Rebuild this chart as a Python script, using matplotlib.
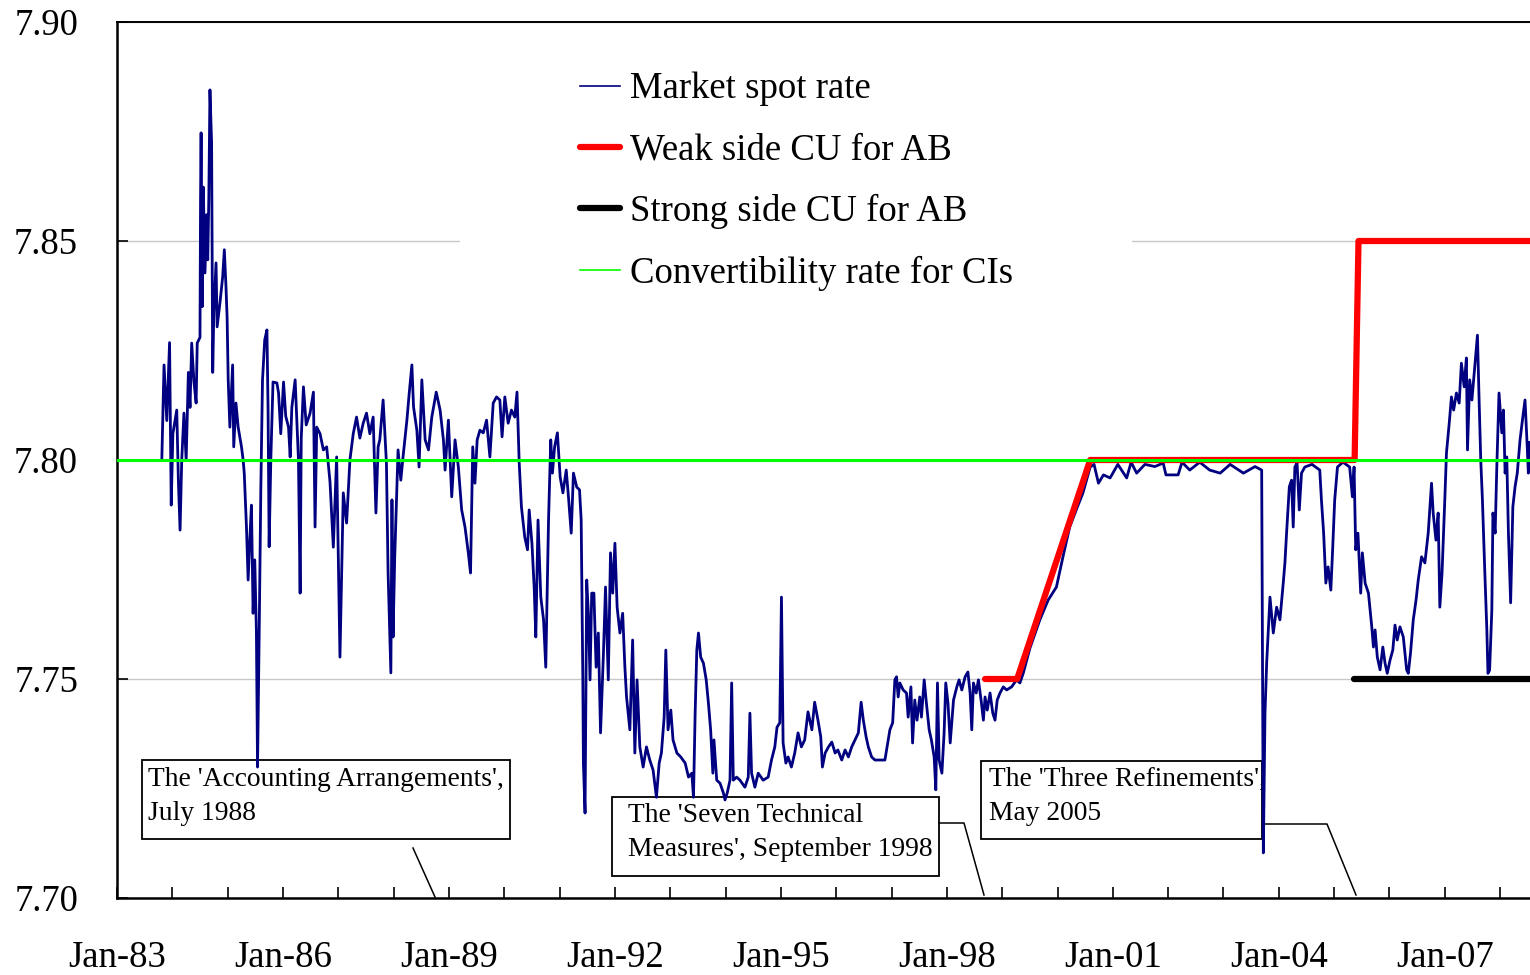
import matplotlib
matplotlib.use('Agg')
import matplotlib.pyplot as plt
from matplotlib.lines import Line2D
from matplotlib.patches import Rectangle

plt.rcParams['font.family'] = ['Liberation Serif', 'DejaVu Serif']

# ---------------- data (HKD per USD) ----------------
yr_83_86 = [1983.81, 1983.85, 1983.90, 1983.95, 1983.98, 1984.01, 1984.08, 1984.11, 1984.14, 1984.17,
            1984.21, 1984.25, 1984.29, 1984.32, 1984.35, 1984.39, 1984.43, 1984.45, 1984.50, 1984.51,
            1984.52, 1984.54, 1984.56, 1984.59, 1984.62, 1984.64, 1984.66, 1984.68, 1984.71, 1984.73,
            1984.75, 1984.79, 1984.81, 1984.86, 1984.91, 1984.94, 1984.97, 1984.99, 1985.01, 1985.04,
            1985.09, 1985.11, 1985.15, 1985.19, 1985.25, 1985.28, 1985.30, 1985.34, 1985.37, 1985.40,
            1985.43, 1985.46, 1985.49, 1985.52, 1985.54, 1985.57, 1985.60, 1985.63, 1985.67, 1985.71,
            1985.73, 1985.75, 1985.78, 1985.82, 1985.89, 1985.92, 1985.96]
fx_83_86 = [7.8000, 7.8217, 7.8090, 7.8268, 7.7897, 7.8060, 7.8114, 7.7950, 7.7840, 7.8000,
            7.8107, 7.8000, 7.8200, 7.8120, 7.8267, 7.8180, 7.8130, 7.8267, 7.8280, 7.8594,
            7.8747, 7.8350, 7.8623, 7.8427, 7.8560, 7.8457, 7.8600, 7.8845, 7.8724, 7.8200,
            7.8336, 7.8450, 7.8304, 7.8358, 7.8418, 7.8480, 7.8395, 7.8326, 7.8183, 7.8075,
            7.8217, 7.8030, 7.8130, 7.8075, 7.8030, 7.8000, 7.7970, 7.7847, 7.7726, 7.7817,
            7.7897, 7.7650, 7.7772, 7.7605, 7.7299, 7.7605, 7.7938, 7.8183, 7.8274, 7.8297,
            7.8120, 7.7802, 7.8000, 7.8178, 7.8176, 7.8153, 7.8060]

yr_86_91 = [1986.01, 1986.05, 1986.10, 1986.13, 1986.16, 1986.22, 1986.28, 1986.31, 1986.33, 1986.37,
            1986.42, 1986.49, 1986.55, 1986.58, 1986.61, 1986.67, 1986.73, 1986.79, 1986.85, 1986.91,
            1986.97, 1987.03, 1987.09, 1987.15, 1987.21, 1987.27, 1987.33, 1987.39, 1987.45, 1987.51,
            1987.57, 1987.63, 1987.68, 1987.72, 1987.75, 1987.81, 1987.87, 1987.90, 1987.95, 1987.97,
            1987.99, 1988.02, 1988.08, 1988.13, 1988.17, 1988.24, 1988.28, 1988.33, 1988.36, 1988.42,
            1988.46, 1988.51, 1988.57, 1988.63, 1988.69, 1988.77, 1988.84, 1988.90, 1988.93, 1988.99,
            1989.05, 1989.11, 1989.17, 1989.23, 1989.29, 1989.35, 1989.39, 1989.43, 1989.47, 1989.51,
            1989.56, 1989.62, 1989.68, 1989.74, 1989.80, 1989.86, 1989.92, 1989.96, 1990.01, 1990.07,
            1990.13, 1990.19, 1990.23, 1990.27, 1990.31, 1990.37, 1990.42, 1990.45, 1990.50, 1990.54,
            1990.57, 1990.61, 1990.66, 1990.71, 1990.75, 1990.80, 1990.84, 1990.87, 1990.91, 1990.96]
fx_86_91 = [7.8178, 7.8100, 7.8075, 7.8007, 7.8120, 7.8183, 7.8000, 7.7696, 7.8050, 7.8167,
            7.8080, 7.8107, 7.8155, 7.7847, 7.8075, 7.8060, 7.8023, 7.8030, 7.7950, 7.7801,
            7.8007, 7.7550, 7.7925, 7.7856, 7.8000, 7.8060, 7.8098, 7.8050, 7.8084, 7.8107,
            7.8060, 7.8098, 7.7879, 7.8030, 7.8046, 7.8137, 7.7993, 7.7742, 7.7514, 7.7909,
            7.7596, 7.7779, 7.8023, 7.7954, 7.8007, 7.8091, 7.8150, 7.8217, 7.8121, 7.8068,
            7.7984, 7.8183, 7.8046, 7.8023, 7.8098, 7.8155, 7.8114, 7.8046, 7.7977, 7.8091,
            7.7916, 7.8046, 7.7984, 7.7886, 7.7847, 7.7788, 7.7742, 7.8030, 7.7947, 7.8046,
            7.8068, 7.8062, 7.8091, 7.8007, 7.8130, 7.8144, 7.8137, 7.8053, 7.8144, 7.8084,
            7.8114, 7.8098, 7.8155, 7.7993, 7.7893, 7.7824, 7.7795, 7.7886, 7.7810, 7.7710,
            7.7596, 7.7863, 7.7687, 7.7635, 7.7527, 7.7863, 7.8046, 7.7970, 7.8030, 7.8062]

yr_91_95 = [1991.01, 1991.06, 1991.12, 1991.16, 1991.21, 1991.25, 1991.31, 1991.36, 1991.39, 1991.42,
            1991.43, 1991.46, 1991.49, 1991.52, 1991.55, 1991.58, 1991.62, 1991.66, 1991.70, 1991.74,
            1991.79, 1991.83, 1991.88, 1991.92, 1991.96, 1992.00, 1992.04, 1992.09, 1992.14, 1992.18,
            1992.21, 1992.27, 1992.32, 1992.36, 1992.40, 1992.45, 1992.51, 1992.57, 1992.63, 1992.69,
            1992.75, 1992.80, 1992.84, 1992.89, 1992.92, 1992.96, 1993.01, 1993.05, 1993.12, 1993.19,
            1993.27, 1993.33, 1993.39, 1993.42, 1993.45, 1993.48, 1993.51, 1993.55, 1993.60, 1993.65,
            1993.69, 1993.73, 1993.77, 1993.79, 1993.84, 1993.90, 1993.96, 1993.99, 1994.03, 1994.08,
            1994.11, 1994.14, 1994.20, 1994.26, 1994.35, 1994.41, 1994.44, 1994.47, 1994.53, 1994.59,
            1994.68, 1994.77, 1994.83, 1994.89, 1994.93, 1994.98]
fx_91_95 = [7.7961, 7.7925, 7.7977, 7.7916, 7.7833, 7.7970, 7.7938, 7.7932, 7.7863, 7.7498,
            7.7308, 7.7194, 7.7726, 7.7650, 7.7498, 7.7696, 7.7696, 7.7527, 7.7605, 7.7377,
            7.7550, 7.7710, 7.7498, 7.7788, 7.7696, 7.7810, 7.7664, 7.7605, 7.7650, 7.7527,
            7.7459, 7.7384, 7.7589, 7.7331, 7.7498, 7.7345, 7.7299, 7.7345, 7.7315, 7.7292,
            7.7230, 7.7308, 7.7331, 7.7413, 7.7566, 7.7384, 7.7429, 7.7361, 7.7331, 7.7322,
            7.7308, 7.7276, 7.7285, 7.7230, 7.7422, 7.7566, 7.7605, 7.7550, 7.7536, 7.7498,
            7.7445, 7.7384, 7.7285, 7.7361, 7.7269, 7.7262, 7.7240, 7.7224, 7.7240, 7.7269,
            7.7491, 7.7269, 7.7276, 7.7269, 7.7253, 7.7276, 7.7422, 7.7285, 7.7253, 7.7285,
            7.7269, 7.7276, 7.7315, 7.7345, 7.7390, 7.7400]

yr_95_00 = [1995.01, 1995.04, 1995.09, 1995.13, 1995.19, 1995.25, 1995.31, 1995.37, 1995.43, 1995.49,
            1995.56, 1995.61, 1995.67, 1995.72, 1995.75, 1995.80, 1995.86, 1995.92, 1995.98, 1996.03,
            1996.10, 1996.16, 1996.22, 1996.28, 1996.34, 1996.40, 1996.45, 1996.49, 1996.54, 1996.58,
            1996.64, 1996.70, 1996.79, 1996.88, 1996.92, 1996.97, 1997.02, 1997.06, 1997.09, 1997.12,
            1997.15, 1997.21, 1997.27, 1997.30, 1997.35, 1997.38, 1997.42, 1997.46, 1997.51, 1997.54,
            1997.59, 1997.63, 1997.68, 1997.72, 1997.77, 1997.80, 1997.83, 1997.86, 1997.91, 1997.95,
            1997.98, 1998.02, 1998.06, 1998.12, 1998.18, 1998.22, 1998.27, 1998.33, 1998.38, 1998.42,
            1998.45, 1998.48, 1998.53, 1998.57, 1998.62, 1998.66, 1998.69, 1998.73, 1998.78, 1998.83,
            1998.87, 1998.91, 1998.96, 1999.02, 1999.08, 1999.17, 1999.26, 1999.32, 1999.38, 1999.50,
            1999.68, 1999.83, 1999.98]
fx_95_00 = [7.7687, 7.7354, 7.7308, 7.7322, 7.7299, 7.7331, 7.7377, 7.7345, 7.7361, 7.7425,
            7.7384, 7.7447, 7.7406, 7.7368, 7.7299, 7.7331, 7.7345, 7.7356, 7.7331, 7.7338,
            7.7315, 7.7338, 7.7322, 7.7345, 7.7361, 7.7377, 7.7447, 7.7406, 7.7368, 7.7345,
            7.7322, 7.7315, 7.7315, 7.7315, 7.7345, 7.7384, 7.7400, 7.7498, 7.7505, 7.7459,
            7.7491, 7.7475, 7.7468, 7.7413, 7.7482, 7.7354, 7.7452, 7.7406, 7.7459, 7.7413,
            7.7498, 7.7445, 7.7384, 7.7361, 7.7322, 7.7247, 7.7491, 7.7315, 7.7285, 7.7377,
            7.7491, 7.7445, 7.7354, 7.7452, 7.7482, 7.7498, 7.7475, 7.7505, 7.7516, 7.7468,
            7.7384, 7.7491, 7.7468, 7.7498, 7.7450, 7.7406, 7.7459, 7.7429, 7.7468, 7.7422,
            7.7406, 7.7452, 7.7468, 7.7482, 7.7475, 7.7482, 7.7498, 7.7491, 7.7513, 7.7570,
            7.7635, 7.7680, 7.7710]

yr_00_05 = [2000.10, 2000.22, 2000.35, 2000.46, 2000.59, 2000.66, 2000.74, 2000.83, 2000.95, 2001.09,
            2001.25, 2001.33, 2001.43, 2001.58, 2001.76, 2001.91, 2001.96, 2002.18, 2002.25, 2002.39,
            2002.57, 2002.75, 2002.94, 2003.12, 2003.36, 2003.57, 2003.69, 2003.72, 2003.75, 2003.78,
            2003.84, 2003.90, 2003.96, 2004.02, 2004.08, 2004.11, 2004.14, 2004.19, 2004.23, 2004.26,
            2004.29, 2004.33, 2004.37, 2004.41, 2004.47, 2004.60, 2004.74, 2004.77, 2004.81, 2004.85,
            2004.89, 2004.94, 2004.97, 2005.01, 2005.06, 2005.16, 2005.28, 2005.33]
fx_00_05 = [7.7780, 7.7847, 7.7890, 7.7925, 7.7984, 7.7990, 7.7947, 7.7966, 7.7959, 7.7990,
            7.7959, 7.7995, 7.7970, 7.7990, 7.7985, 7.7993, 7.7966, 7.7966, 7.7995, 7.7977,
            7.7995, 7.7977, 7.7970, 7.7990, 7.7970, 7.7985, 7.7977, 7.7103, 7.7422, 7.7536,
            7.7687, 7.7605, 7.7664, 7.7635, 7.7719, 7.7765, 7.7833, 7.7939, 7.7954, 7.7847,
            7.7984, 7.7993, 7.7886, 7.7970, 7.7984, 7.7990, 7.7977, 7.7909, 7.7833, 7.7719,
            7.7756, 7.7703, 7.7788, 7.7909, 7.7984, 7.7995, 7.7984, 7.7916]

yr_05_08 = [2005.36, 2005.39, 2005.43, 2005.48, 2005.51, 2005.56, 2005.62, 2005.68, 2005.71, 2005.74,
            2005.78, 2005.83, 2005.88, 2005.92, 2005.96, 2006.01, 2006.06, 2006.10, 2006.14, 2006.19,
            2006.25, 2006.31, 2006.34, 2006.38, 2006.43, 2006.48, 2006.52, 2006.58, 2006.64, 2006.70,
            2006.76, 2006.79, 2006.84, 2006.88, 2006.91, 2006.95, 2007.00, 2007.03, 2007.08, 2007.12,
            2007.16, 2007.21, 2007.26, 2007.30, 2007.35, 2007.39, 2007.41, 2007.45, 2007.49, 2007.54,
            2007.59, 2007.62, 2007.65, 2007.68, 2007.72, 2007.76, 2007.78, 2007.81, 2007.85, 2007.87,
            2007.91, 2007.94, 2007.98, 2008.03, 2008.06, 2008.09, 2008.12, 2008.15, 2008.19, 2008.23,
            2008.27, 2008.31, 2008.36, 2008.41, 2008.45, 2008.49, 2008.51, 2008.53]
fx_05_08 = [7.7984, 7.7795, 7.7833, 7.7696, 7.7788, 7.7719, 7.7696, 7.7619, 7.7573, 7.7612,
            7.7550, 7.7521, 7.7573, 7.7536, 7.7513, 7.7543, 7.7566, 7.7623, 7.7589, 7.7619,
            7.7596, 7.7521, 7.7513, 7.7559, 7.7635, 7.7680, 7.7726, 7.7779, 7.7765, 7.7833,
            7.7947, 7.7879, 7.7817, 7.7879, 7.7664, 7.7742, 7.7909, 7.8016, 7.8084, 7.8144,
            7.8114, 7.8153, 7.8130, 7.8221, 7.8167, 7.8233, 7.8023, 7.8183, 7.8137, 7.8212,
            7.8285, 7.8137, 7.8000, 7.7909, 7.7756, 7.7612, 7.7513, 7.7520, 7.7657, 7.7879,
            7.7833, 7.7984, 7.8153, 7.8062, 7.8114, 7.7970, 7.8007, 7.7833, 7.7674, 7.7893,
            7.7939, 7.7970, 7.8046, 7.8098, 7.8137, 7.8030, 7.7970, 7.8040]

weak_year = [1998.69, 1999.27, 2000.59, 2005.37, 2005.44, 2008.60]
weak_rate = [7.75, 7.75, 7.80, 7.80, 7.85, 7.85]
strong_year = [2005.36, 2008.60]
strong_rate = [7.75, 7.75]
conv_year = [1983.0, 2008.60]
conv_rate = [7.80, 7.80]

y_ticks = [7.70, 7.75, 7.80, 7.85, 7.90]
x_tick_years = list(range(1983, 2009))
x_label_years = list(range(1983, 2008, 3))

legend_labels = ['Market spot rate', 'Weak side CU for AB',
                 'Strong side CU for AB', 'Convertibility rate for CIs']
notes = ["The 'Accounting Arrangements',\nJuly 1988",
         "The 'Seven Technical\nMeasures', September 1998",
         "The 'Three Refinements',\nMay 2005"]

spot_year = yr_83_86 + yr_86_91 + yr_91_95 + yr_95_00 + yr_00_05 + yr_05_08
spot_rate = fx_83_86 + fx_86_91 + fx_91_95 + fx_95_00 + fx_00_05 + fx_05_08

# ---------------- figure ----------------
W, H = 1530, 975
fig = plt.figure(figsize=(W / 100, H / 100), dpi=100)
ax = fig.add_axes([117 / W, 1 - 898 / H, 1 - 117 / W, (898 - 22) / H])


def fp(x, y):
    return (x / W, 1 - y / H)


NAVY, RED, GREEN = '#000080', '#ff0000', '#00ff00'
ax.plot(spot_year, spot_rate, color=NAVY, lw=2.0, zorder=3)
ax.plot(weak_year, weak_rate, color=RED, lw=4.5, solid_capstyle='round',
        solid_joinstyle='round', zorder=4)
ax.plot(strong_year, strong_rate, color='black', lw=4.5, solid_capstyle='round', zorder=4)
ax.plot(conv_year, conv_rate, color=GREEN, lw=2.2, zorder=5)

ax.set_xlim(1983.0, 2008.54)
ax.set_ylim(7.70, 7.90)
ax.set_yticks(y_ticks)
ax.set_yticklabels([f'{v:.2f}' for v in y_ticks])
ax.set_xticks(x_tick_years)
ax.set_xticklabels([f'Jan-{y % 100:02d}' if y in x_label_years else '' for y in x_tick_years])
ax.tick_params(axis='both', direction='in', length=8, width=1.2, labelsize=26.5, colors='black')
ax.tick_params(axis='y', pad=28)
ax.tick_params(axis='x', pad=30.5)
ax.yaxis.grid(True, color='#c8c8c8', lw=1.0)
ax.set_axisbelow(True)
for s in ['left', 'bottom']:
    ax.spines[s].set_linewidth(1.8)
ax.spines['top'].set_linewidth(1.4)
ax.spines['right'].set_visible(False)

# white area behind legend (hides gridline)
bx0, by0 = fp(460, 300)
bx1, by1 = fp(1132, 40)
ax.add_patch(Rectangle((bx0, by0), bx1 - bx0, by1 - by0, transform=fig.transFigure,
                       facecolor='white', edgecolor='none', zorder=1))

handles = [Line2D([], [], color=NAVY, lw=1.2),
           Line2D([], [], color=RED, lw=4.5, solid_capstyle='round'),
           Line2D([], [], color='black', lw=4.5, solid_capstyle='round'),
           Line2D([], [], color=GREEN, lw=1.2)]
leg = fig.legend(handles, legend_labels, loc='upper left', bbox_to_anchor=fp(580, 72),
                 bbox_transform=fig.transFigure, frameon=False, fontsize=26.5,
                 borderpad=0, borderaxespad=0, handlelength=1.1, handletextpad=0.25,
                 labelspacing=0.72)

# annotation boxes
box_rects = [(142, 760, 510, 839), (612, 797, 939, 876), (981, 761, 1262, 839)]
text_pos = [(148, 767), (628, 803), (989, 767)]
for (x0, y0, x1, y1), (tx, ty), note in zip(box_rects, text_pos, notes):
    rx, ry = fp(x0, y1)
    rx1, ry1 = fp(x1, y0)
    ax.add_patch(Rectangle((rx, ry), rx1 - rx, ry1 - ry, transform=fig.transFigure,
                           facecolor='white', edgecolor='black', lw=1.3, zorder=2))
    ax.text(*fp(tx, ty), note, transform=fig.transFigure, ha='left', va='top',
            fontsize=19.8, linespacing=1.5, zorder=2.5)

leaders = [[(413, 848), (435, 897)],
           [(939, 823), (964, 823), (984, 895)],
           [(1262, 824), (1327, 824), (1356, 895)]]
for pts in leaders:
    xs = [fp(x, y)[0] for x, y in pts]
    ys = [fp(x, y)[1] for x, y in pts]
    ax.add_line(Line2D(xs, ys, transform=fig.transFigure, color='black', lw=1.1, zorder=2))

fig.savefig('out.png', dpi=100, facecolor='white')
